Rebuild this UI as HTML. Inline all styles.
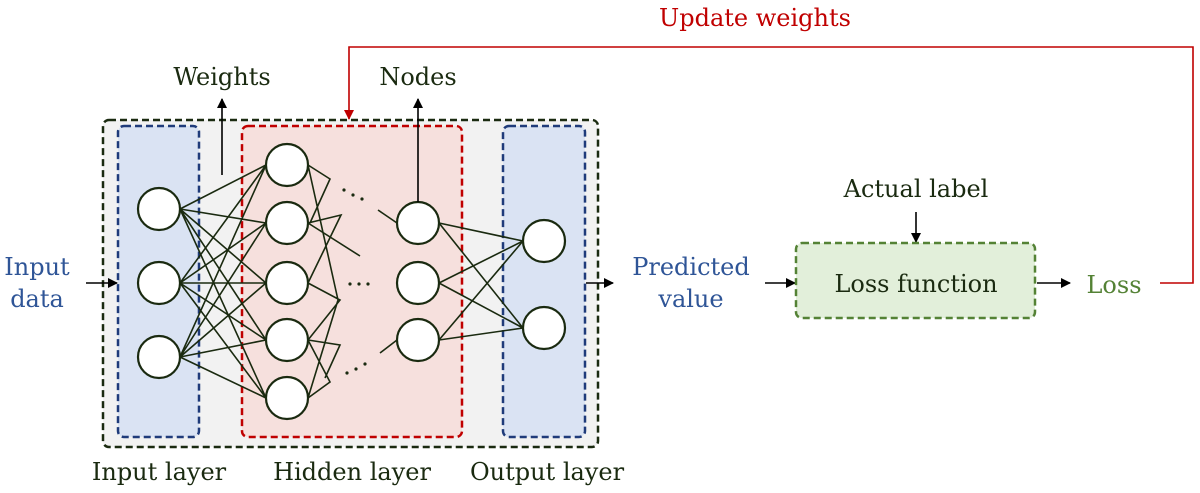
<!DOCTYPE html><html><head><style>body{margin:0;background:#fff}svg{display:block}text{font-family:"DejaVu Serif","Liberation Serif",serif}</style></head><body>
<svg width="1200" height="493" viewBox="0 0 1200 493" xmlns="http://www.w3.org/2000/svg">
<defs><marker id="a" markerWidth="10" markerHeight="10" refX="9" refY="5" orient="auto" markerUnits="userSpaceOnUse"><path d="M0,0 L10,5 L0,10z" fill="#000"/></marker>
<marker id="r" markerWidth="10" markerHeight="10" refX="9" refY="5" orient="auto" markerUnits="userSpaceOnUse"><path d="M0,0 L10,5 L0,10z" fill="#c00000"/></marker></defs>
<rect x="103" y="120" width="495" height="327" rx="6" fill="#f2f2f2" stroke="#1a2a10" stroke-width="2.5" stroke-dasharray="7,4"/>
<rect x="118" y="126" width="81" height="311" rx="6" fill="#dae3f3" stroke="#1f3b7a" stroke-width="2.5" stroke-dasharray="7,4"/>
<rect x="242" y="126" width="220" height="311" rx="6" fill="#f6e0dd" stroke="#c00000" stroke-width="2.5" stroke-dasharray="7,4"/>
<rect x="503" y="126" width="82" height="311" rx="6" fill="#dae3f3" stroke="#1f3b7a" stroke-width="2.5" stroke-dasharray="7,4"/>
<g stroke="#1a2a10" stroke-width="1.6" fill="none">
<path d="M180,209L266,165M180,209L266,223M180,209L266,283M180,209L266,340M180,209L266,398
M180,283L266,165M180,283L266,223M180,283L266,283M180,283L266,340M180,283L266,398
M180,357L266,165M180,357L266,223M180,357L266,283M180,357L266,340M180,357L266,398"/>
<path d="M308,165L330,179L310,223M308,165L338,300M308,223L341,215L308,283M308,223L360,256M308,283L340,300L308,340M308,340L340,345L325,378M308,398L330,382L308,340M308,398L338,300"/>
<path d="M378,210L397,223M380,353L397,340"/>
<path d="M439,223L523,241M439,223L523,328M439,283L523,241M439,283L523,328M439,340L523,241M439,340L523,328"/>
</g>
<g fill="#fff" stroke="#1a2a10" stroke-width="2.2">
<circle cx="159" cy="209" r="21"/><circle cx="159" cy="283" r="21"/><circle cx="159" cy="357" r="21"/>
<circle cx="287" cy="165" r="21"/><circle cx="287" cy="223" r="21"/><circle cx="287" cy="283" r="21"/><circle cx="287" cy="340" r="21"/><circle cx="287" cy="398" r="21"/>
<circle cx="418" cy="223" r="21"/><circle cx="418" cy="283" r="21"/><circle cx="418" cy="340" r="21"/>
<circle cx="544" cy="241" r="21"/><circle cx="544" cy="328" r="21"/>
</g>
<g fill="#1a2a10"><circle cx="344" cy="190" r="1.6"/><circle cx="353" cy="195" r="1.6"/><circle cx="362" cy="199" r="1.6"/>
<circle cx="350" cy="284" r="1.6"/><circle cx="359" cy="284" r="1.6"/><circle cx="368" cy="284" r="1.6"/>
<circle cx="347" cy="373" r="1.6"/><circle cx="356" cy="369" r="1.6"/><circle cx="365" cy="364" r="1.6"/></g>
<g stroke="#000" stroke-width="1.6" marker-end="url(#a)">
<line x1="222" y1="175" x2="222" y2="99"/>
<line x1="418" y1="202" x2="418" y2="99"/>
<line x1="86" y1="283" x2="117" y2="283"/>
<line x1="586" y1="283" x2="613" y2="283"/>
<line x1="765" y1="283" x2="795" y2="283"/>
<line x1="916" y1="212" x2="916" y2="242"/>
<line x1="1037" y1="283" x2="1070" y2="283"/>
</g>
<path d="M1160,283H1193V47H349V119" fill="none" stroke="#c00000" stroke-width="1.6" marker-end="url(#r)"/>
<rect x="796" y="243" width="239" height="75" rx="6" fill="#e2efda" stroke="#548235" stroke-width="2.5" stroke-dasharray="7,4"/>
<g font-size="24" fill="#1a2a10" text-anchor="middle">
<text x="222" y="85">Weights</text><text x="418" y="85">Nodes</text>
<text x="159" y="480">Input layer</text><text x="352" y="480">Hidden layer</text><text x="547" y="480">Output layer</text>
<text x="916" y="197">Actual label</text><text x="916" y="292">Loss function</text>
<text x="37" y="275" fill="#2f5597">Input</text><text x="37" y="307" fill="#2f5597">data</text>
<text x="691" y="275" fill="#2f5597">Predicted</text><text x="691" y="307" fill="#2f5597">value</text>
<text x="1114" y="293" fill="#548235">Loss</text>
<text x="755" y="26" fill="#c00000">Update weights</text>
</g>
</svg></body></html>
